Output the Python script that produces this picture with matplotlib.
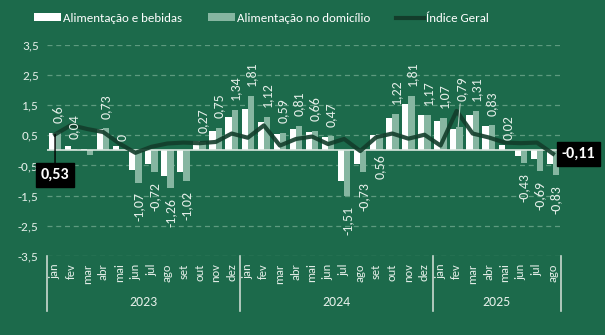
import matplotlib
matplotlib.use('Agg')
import matplotlib.pyplot as plt
from matplotlib.patches import Patch
from matplotlib.lines import Line2D
import matplotlib.transforms as mtransforms

plt.rcParams['font.family'] = ['Carlito', 'Lato', 'DejaVu Sans']

meses = ['jan', 'fev', 'mar', 'abr', 'mai', 'jun', 'jul', 'ago', 'set', 'out', 'nov', 'dez'] * 2 + \
        ['jan', 'fev', 'mar', 'abr', 'mai', 'jun', 'jul', 'ago']
anos = ['2023', '2024', '2025']

# Alimentação e bebidas (barras brancas)
alim_bebidas = [0.59, 0.16, 0.05, 0.71, 0.16, -0.66, -0.46, -0.85, -0.71, 0.31, 0.63, 1.11,
                1.38, 0.95, 0.53, 0.70, 0.62, 0.44, -1.00, -0.44, 0.50, 1.06, 1.55, 1.18,
                0.96, 0.70, 1.17, 0.82, 0.17, -0.18, -0.27, -0.46]
# Alimentação no domicílio (barras verde claro)
alim_domicilio = [0.60, 0.04, -0.14, 0.73, 0.00, -1.07, -0.72, -1.26, -1.02, 0.27, 0.75, 1.34,
                  1.81, 1.12, 0.59, 0.81, 0.66, 0.47, -1.51, -0.73, 0.56, 1.22, 1.81, 1.17,
                  1.07, 0.79, 1.31, 0.83, 0.02, -0.43, -0.69, -0.83]
# Índice Geral (linha)
indice_geral = [0.53, 0.84, 0.71, 0.61, 0.23, -0.08, 0.12, 0.23, 0.26, 0.24, 0.28, 0.56,
                0.42, 0.83, 0.16, 0.38, 0.46, 0.21, 0.38, -0.02, 0.44, 0.56, 0.39, 0.52,
                0.16, 1.31, 0.56, 0.43, 0.26, 0.24, 0.26, -0.11]

fundo = '#1c6a4b'
cor_clara = '#86b6a1'
cor_linha = '#133d2b'
cor_texto = '#e4eee8'

fig = plt.figure(figsize=(6.05, 3.35), dpi=100, facecolor=fundo)
ax = fig.add_axes([0.0777, 0.236, 0.8496, 0.630], facecolor=fundo)

n = len(meses)
x = list(range(n))
w = 0.40
ax.bar([i - 0.19 for i in x], alim_bebidas, width=w, color='white', zorder=3)
ax.bar([i + 0.19 for i in x], alim_domicilio, width=w, color=cor_clara, zorder=3)
ax.axhline(0, color='#d8e6de', lw=1.2, zorder=4)
ax.plot(x, indice_geral, color=cor_linha, lw=3.0, alpha=0.9, solid_joinstyle='round', zorder=5)

ax.set_xlim(-0.5, n - 0.5)
ax.set_ylim(-3.5, 3.5)
yt = [-3.5, -2.5, -1.5, -0.5, 0.5, 1.5, 2.5, 3.5]
ax.set_yticks(yt)
ax.set_yticklabels([('%.1f' % v).replace('.', ',') for v in yt], color=cor_texto, fontsize=9.5)
ax.tick_params(axis='y', length=0, pad=6)
ax.set_xticks([])
ax.grid(axis='y', color='#5e9a7f', ls=(0, (4, 3)), lw=0.9, zorder=0)
for s in ax.spines.values():
    s.set_visible(False)

# rótulos de dados (domicílio)
off = mtransforms.offset_copy
tam = 10
for i, v in enumerate(alim_domicilio):
    if i == 2:
        continue
    txt = ('%.2f' % v).rstrip('0').rstrip(',').replace('.', ',')
    if v == 0:
        txt = '0'
    if i == 25:
        ax.annotate(txt, xy=(i + 0.1, v), xytext=(i + 0.3, v + 0.85), rotation=90,
                    ha='center', va='bottom', color=cor_texto, fontsize=tam,
                    arrowprops=dict(arrowstyle='-', color='#b8cfc3', lw=0.8, shrinkA=0, shrinkB=0),
                    zorder=6)
        continue
    if i == 20:
        ax.text(i + 0.19, 0, txt, rotation=90, ha='center', va='top', color=cor_texto, fontsize=tam,
                transform=off(ax.transData, fig=fig, y=-3, units='points'), zorder=6)
        continue
    if v >= 0:
        ax.text(i + 0.19, v, txt, rotation=90, ha='center', va='bottom', color=cor_texto, fontsize=tam,
                transform=off(ax.transData, fig=fig, y=7, units='points'), zorder=6)
    else:
        ax.text(i + 0.19, v, txt, rotation=90, ha='center', va='top', color=cor_texto, fontsize=tam,
                transform=off(ax.transData, fig=fig, y=-7, units='points'), zorder=6)

# destaques do Índice Geral
ax.annotate('0,53', xy=(0, indice_geral[0]), xytext=(0, -0.82), ha='center', va='center',
            color='white', fontsize=11.5, fontweight='bold',
            bbox=dict(boxstyle='square,pad=0.3', fc='black', ec='black'),
            arrowprops=dict(arrowstyle='-', color='black', lw=1, shrinkA=0, shrinkB=0), zorder=7)
ax.annotate('-0,11', xy=(n - 1, indice_geral[-1]), xytext=(n - 0.45, -0.12), ha='left', va='center',
            color='white', fontsize=11.5, fontweight='bold',
            bbox=dict(boxstyle='square,pad=0.3', fc='black', ec='black'), annotation_clip=False,
            zorder=7)

# eixo de categorias em dois níveis
trans = mtransforms.blended_transform_factory(ax.transData, ax.transAxes)
for i, m in enumerate(meses):
    ax.text(i, -0.035, m, rotation=90, ha='center', va='top', color=cor_texto, fontsize=9,
            transform=trans, clip_on=False)
sep = [-0.5, 11.5, 23.5, n - 0.5]
for s in sep:
    ax.plot([s, s], [0, -0.26], color='#c9d9d0', lw=1.2, transform=trans, clip_on=False)
for k, a in enumerate(anos):
    ax.text((sep[k] + sep[k + 1]) / 2, -0.22, a, ha='center', va='center', color=cor_texto,
            fontsize=10, transform=trans)

handles = [Patch(facecolor='white', edgecolor='none'),
           Patch(facecolor=cor_clara, edgecolor='none'),
           Line2D([0], [0], color=cor_linha, lw=3.0)]
fig.legend(handles, ['Alimentação e bebidas', 'Alimentação no domicílio', 'Índice Geral'],
           loc='center', bbox_to_anchor=(0.432, 0.945), ncol=3, frameon=False, fontsize=9.3,
           labelcolor='white', handlelength=2.1, handleheight=0.55, handletextpad=0.15,
           columnspacing=2.0)

fig.savefig('out.png', dpi=100, facecolor=fundo)
